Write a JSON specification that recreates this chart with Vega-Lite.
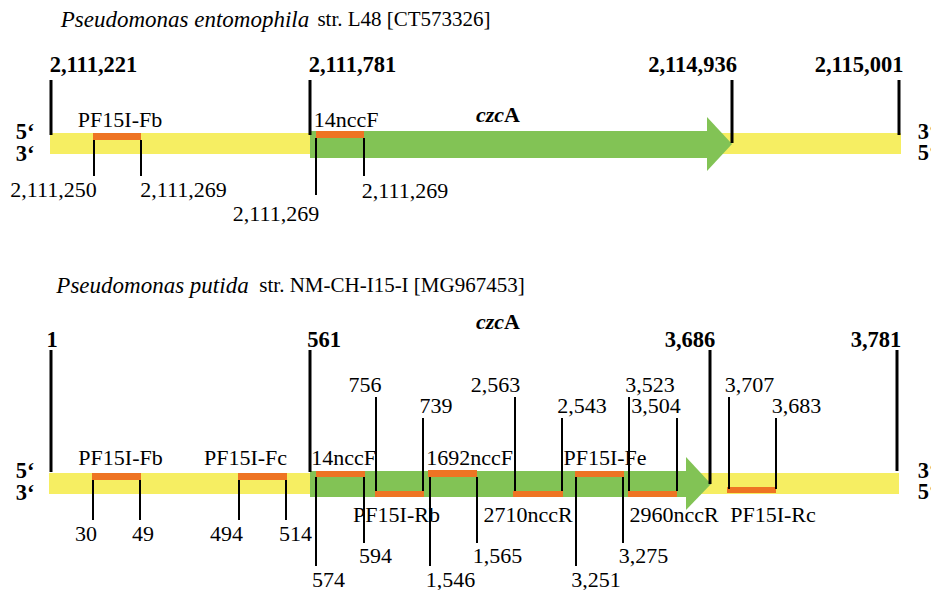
{
  "$schema": "https://vega.github.io/schema/vega-lite/v6.json",
  "width": 931,
  "height": 590,
  "padding": 0,
  "autosize": {"type": "none"},
  "background": "white",
  "config": {"view": {"stroke": null}},
  "datasets": {
    "segments": [
      {"feature": "flank", "pos": 50, "pos2": 901, "at": 133, "at2": 154},
      {"feature": "flank", "pos": 49, "pos2": 899, "at": 473, "at2": 494},
      {"feature": "gene", "pos": 310, "pos2": 708, "at": 131, "at2": 158},
      {"feature": "gene", "pos": 310, "pos2": 687, "at": 471, "at2": 497},
      {"feature": "primer", "name": "PF15I-Fb", "pos": 93, "pos2": 141, "at": 133, "at2": 140},
      {"feature": "primer", "name": "14nccF", "pos": 316, "pos2": 364, "at": 131, "at2": 138},
      {"feature": "primer", "name": "PF15I-Fb", "pos": 92, "pos2": 141, "at": 473, "at2": 480},
      {"feature": "primer", "name": "PF15I-Fc", "pos": 238, "pos2": 287, "at": 473, "at2": 480},
      {"feature": "primer", "name": "14nccF", "pos": 316, "pos2": 365, "at": 471, "at2": 477},
      {"feature": "primer", "name": "1692nccF", "pos": 428, "pos2": 477, "at": 470, "at2": 477},
      {"feature": "primer", "name": "PF15I-Fe", "pos": 575, "pos2": 624, "at": 471, "at2": 477},
      {"feature": "primer", "name": "PF15I-Rb", "pos": 375, "pos2": 424, "at": 491, "at2": 497},
      {"feature": "primer", "name": "2710nccR", "pos": 513, "pos2": 563, "at": 491, "at2": 497},
      {"feature": "primer", "name": "2960nccR", "pos": 628, "pos2": 677, "at": 491, "at2": 497},
      {"feature": "primer", "name": "PF15I-Rc", "pos": 727, "pos2": 776, "at": 487, "at2": 493}
    ],
    "heads": [
      {"gene": "top", "pos": 707, "at": 117, "at2": 171},
      {"gene": "top", "pos": 732, "at": 144, "at2": 144},
      {"gene": "bottom", "pos": 686, "at": 457, "at2": 510},
      {"gene": "bottom", "pos": 711, "at": 484, "at2": 484}
    ],
    "ticks": [
      {"weight": "major", "pos": 51, "at": 80, "at2": 135},
      {"weight": "major", "pos": 310, "at": 80, "at2": 135},
      {"weight": "major", "pos": 732, "at": 80, "at2": 143},
      {"weight": "major", "pos": 899, "at": 80, "at2": 135},
      {"weight": "minor", "pos": 94, "at": 140, "at2": 176},
      {"weight": "minor", "pos": 141, "at": 140, "at2": 176},
      {"weight": "minor", "pos": 316, "at": 138, "at2": 195},
      {"weight": "minor", "pos": 364, "at": 138, "at2": 176},
      {"weight": "major", "pos": 51, "at": 350, "at2": 472},
      {"weight": "major", "pos": 310, "at": 350, "at2": 472},
      {"weight": "major", "pos": 710, "at": 350, "at2": 484},
      {"weight": "major", "pos": 897, "at": 350, "at2": 471},
      {"weight": "minor", "pos": 376, "at": 397, "at2": 491},
      {"weight": "minor", "pos": 423, "at": 418, "at2": 491},
      {"weight": "minor", "pos": 515, "at": 397, "at2": 491},
      {"weight": "minor", "pos": 562, "at": 418, "at2": 491},
      {"weight": "minor", "pos": 629, "at": 397, "at2": 491},
      {"weight": "minor", "pos": 677, "at": 418, "at2": 491},
      {"weight": "minor", "pos": 729, "at": 397, "at2": 489},
      {"weight": "minor", "pos": 776, "at": 418, "at2": 489},
      {"weight": "minor", "pos": 93, "at": 480, "at2": 520},
      {"weight": "minor", "pos": 140, "at": 480, "at2": 520},
      {"weight": "minor", "pos": 239, "at": 480, "at2": 520},
      {"weight": "minor", "pos": 286, "at": 480, "at2": 520},
      {"weight": "minor", "pos": 316, "at": 477, "at2": 566},
      {"weight": "minor", "pos": 364, "at": 477, "at2": 543},
      {"weight": "minor", "pos": 430, "at": 477, "at2": 566},
      {"weight": "minor", "pos": 477, "at": 477, "at2": 543},
      {"weight": "minor", "pos": 576, "at": 477, "at2": 566},
      {"weight": "minor", "pos": 623, "at": 477, "at2": 543}
    ],
    "labels": [
      {"style": "title-italic", "text": "Pseudomonas entomophila", "pos": 185, "at": 20},
      {"style": "title-regular", "text": "str. L48 [CT573326]", "pos": 404, "at": 20},
      {"style": "title-italic", "text": "Pseudomonas putida", "pos": 152.5, "at": 286},
      {"style": "title-regular", "text": "str. NM-CH-I15-I [MG967453]", "pos": 392, "at": 286},
      {"style": "gene-italic", "text": "czc", "pos": 490, "at": 115},
      {"style": "gene-bold", "text": "A", "pos": 512, "at": 115},
      {"style": "gene-italic", "text": "czc", "pos": 490, "at": 322},
      {"style": "gene-bold", "text": "A", "pos": 512, "at": 322},
      {"style": "bold", "text": "2,111,221", "pos": 93.5, "at": 65},
      {"style": "bold", "text": "2,111,781", "pos": 352.5, "at": 65},
      {"style": "bold", "text": "2,114,936", "pos": 692.5, "at": 65},
      {"style": "bold", "text": "2,115,001", "pos": 859, "at": 65},
      {"style": "bold", "text": "5‘", "pos": 25, "at": 132},
      {"style": "bold", "text": "3‘", "pos": 25, "at": 154},
      {"style": "bold", "text": "3‘", "pos": 927, "at": 132},
      {"style": "bold", "text": "5‘", "pos": 927, "at": 153},
      {"style": "bold", "text": "1", "pos": 52, "at": 340},
      {"style": "bold", "text": "561", "pos": 324, "at": 340},
      {"style": "bold", "text": "3,686", "pos": 690, "at": 340},
      {"style": "bold", "text": "3,781", "pos": 876, "at": 340},
      {"style": "bold", "text": "5‘", "pos": 25, "at": 471},
      {"style": "bold", "text": "3‘", "pos": 25, "at": 493},
      {"style": "bold", "text": "3‘", "pos": 927, "at": 471},
      {"style": "bold", "text": "5‘", "pos": 927, "at": 492},
      {"style": "regular", "text": "PF15I-Fb", "pos": 120, "at": 120},
      {"style": "regular", "text": "14nccF", "pos": 346, "at": 120},
      {"style": "regular", "text": "2,111,250", "pos": 53.5, "at": 190},
      {"style": "regular", "text": "2,111,269", "pos": 183.5, "at": 190},
      {"style": "regular", "text": "2,111,269", "pos": 276, "at": 214},
      {"style": "regular", "text": "2,111,269", "pos": 405, "at": 191},
      {"style": "regular", "text": "756", "pos": 365, "at": 385},
      {"style": "regular", "text": "739", "pos": 436, "at": 406},
      {"style": "regular", "text": "2,563", "pos": 495.5, "at": 385},
      {"style": "regular", "text": "2,543", "pos": 582, "at": 406},
      {"style": "regular", "text": "3,523", "pos": 650, "at": 385},
      {"style": "regular", "text": "3,504", "pos": 656, "at": 406},
      {"style": "regular", "text": "3,707", "pos": 749.5, "at": 385},
      {"style": "regular", "text": "3,683", "pos": 796.5, "at": 406},
      {"style": "regular", "text": "30", "pos": 86, "at": 534},
      {"style": "regular", "text": "49", "pos": 143, "at": 534},
      {"style": "regular", "text": "494", "pos": 226.5, "at": 534},
      {"style": "regular", "text": "514", "pos": 295.5, "at": 534},
      {"style": "regular", "text": "574", "pos": 328.5, "at": 580},
      {"style": "regular", "text": "594", "pos": 375.5, "at": 556},
      {"style": "regular", "text": "1,546", "pos": 450.5, "at": 580},
      {"style": "regular", "text": "1,565", "pos": 497.5, "at": 556},
      {"style": "regular", "text": "3,251", "pos": 596, "at": 580},
      {"style": "regular", "text": "3,275", "pos": 643.5, "at": 556},
      {"style": "regular", "text": "PF15I-Fb", "pos": 120.5, "at": 458},
      {"style": "regular", "text": "PF15I-Fc", "pos": 245.5, "at": 458},
      {"style": "regular", "text": "14nccF", "pos": 343.5, "at": 458},
      {"style": "regular", "text": "1692nccF", "pos": 469.5, "at": 458},
      {"style": "regular", "text": "PF15I-Fe", "pos": 605, "at": 458},
      {"style": "regular", "text": "PF15I-Rb", "pos": 396.5, "at": 515},
      {"style": "regular", "text": "2710nccR", "pos": 528, "at": 515},
      {"style": "regular", "text": "2960nccR", "pos": 674, "at": 515},
      {"style": "regular", "text": "PF15I-Rc", "pos": 773, "at": 515}
    ]
  },
  "encoding": {
    "x": {"field": "pos", "type": "quantitative", "scale": {"domain": [0, 931], "nice": false, "zero": false}, "axis": null},
    "y": {"field": "at", "type": "quantitative", "scale": {"domain": [0, 590], "nice": false, "zero": false, "reverse": true}, "axis": null}
  },
  "layer": [
    {
      "data": {"name": "segments"},
      "mark": {"type": "rect"},
      "encoding": {
        "x2": {"field": "pos2"},
        "y2": {"field": "at2"},
        "color": {"field": "feature", "type": "nominal", "scale": {"domain": ["flank", "gene", "primer"], "range": ["#F6EE62", "#82C355", "#EE7423"]}, "legend": null}
      }
    },
    {
      "data": {"name": "heads"},
      "mark": {"type": "area", "color": "#82C355", "orient": "vertical"},
      "encoding": {
        "y2": {"field": "at2"},
        "detail": {"field": "gene", "type": "nominal"}
      }
    },
    {
      "data": {"name": "ticks"},
      "mark": {"type": "rule", "color": "black"},
      "encoding": {
        "y2": {"field": "at2"},
        "strokeWidth": {"field": "weight", "type": "nominal", "scale": {"domain": ["major", "minor"], "range": [3, 2]}, "legend": null}
      }
    },
    {
      "data": {"name": "labels"},
      "transform": [{"filter": "datum.style === 'regular'"}],
      "mark": {"type": "text", "font": "Liberation Serif", "fontSize": 22, "align": "center", "baseline": "middle", "color": "black"},
      "encoding": {"text": {"field": "text"}}
    },
    {
      "data": {"name": "labels"},
      "transform": [{"filter": "datum.style === 'bold'"}],
      "mark": {"type": "text", "font": "Liberation Serif", "fontSize": 22.5, "fontWeight": "bold", "align": "center", "baseline": "middle", "color": "black"},
      "encoding": {"text": {"field": "text"}}
    },
    {
      "data": {"name": "labels"},
      "transform": [{"filter": "datum.style === 'title-italic'"}],
      "mark": {"type": "text", "font": "Liberation Serif", "fontSize": 23, "fontStyle": "italic", "align": "center", "baseline": "middle", "color": "black"},
      "encoding": {"text": {"field": "text"}}
    },
    {
      "data": {"name": "labels"},
      "transform": [{"filter": "datum.style === 'title-regular'"}],
      "mark": {"type": "text", "font": "Liberation Serif", "fontSize": 21, "align": "center", "baseline": "middle", "color": "black"},
      "encoding": {"text": {"field": "text"}}
    },
    {
      "data": {"name": "labels"},
      "transform": [{"filter": "datum.style === 'gene-italic'"}],
      "mark": {"type": "text", "font": "Liberation Serif", "fontSize": 22, "fontStyle": "italic", "fontWeight": "bold", "align": "center", "baseline": "middle", "color": "black"},
      "encoding": {"text": {"field": "text"}}
    },
    {
      "data": {"name": "labels"},
      "transform": [{"filter": "datum.style === 'gene-bold'"}],
      "mark": {"type": "text", "font": "Liberation Serif", "fontSize": 22, "fontWeight": "bold", "align": "center", "baseline": "middle", "color": "black"},
      "encoding": {"text": {"field": "text"}}
    }
  ]
}
